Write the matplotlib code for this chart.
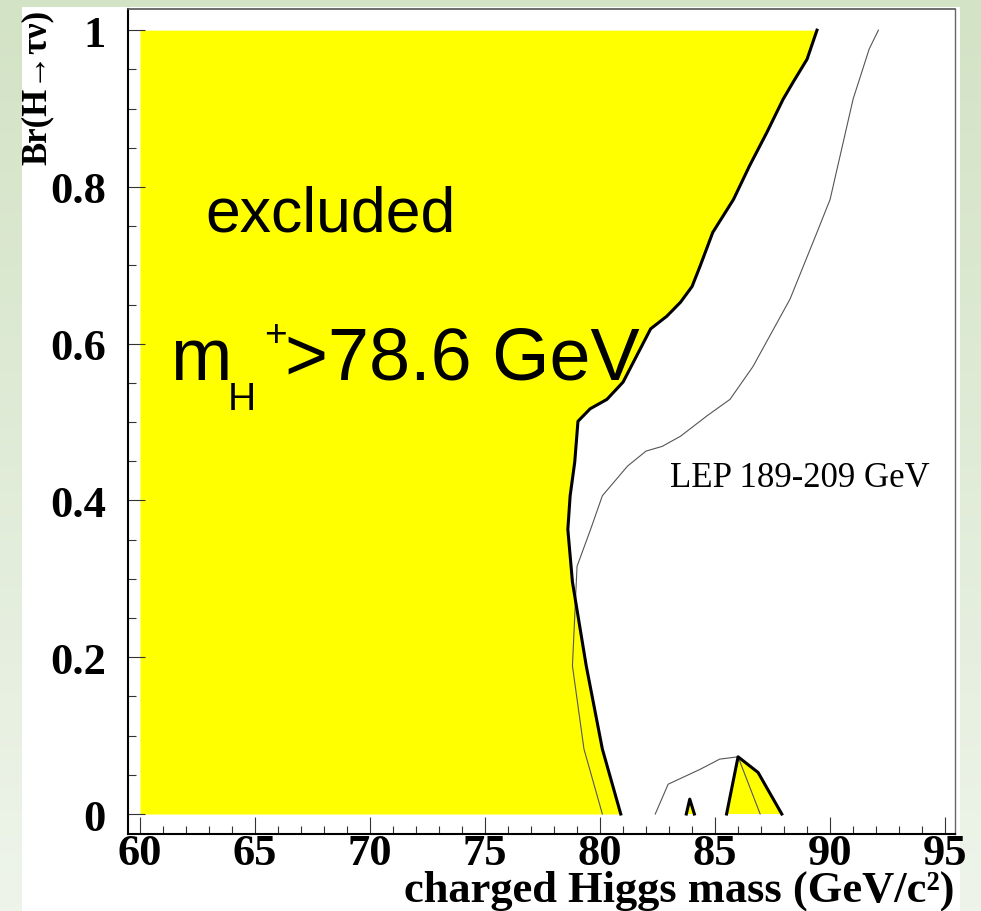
import numpy as np
import matplotlib
matplotlib.use('Agg')
import matplotlib.pyplot as plt
from matplotlib.patches import Rectangle

# observed exclusion boundary, top to bottom
obs_mass = [89.43, 89.0, 88.4, 87.96, 87.26, 86.5, 85.8, 84.9, 84.35, 84.0,
            83.5, 82.9, 82.2, 81.6, 81.0, 80.3, 79.57, 79.04, 78.9, 78.7,
            78.6, 78.8, 79.4, 80.1, 80.9]
obs_br = [1.0, 0.963, 0.934, 0.912, 0.870, 0.827, 0.784, 0.742, 0.699, 0.673,
          0.653, 0.635, 0.619, 0.585, 0.551, 0.529, 0.517, 0.501, 0.449, 0.406,
          0.363, 0.296, 0.189, 0.083, 0.0]

# small excluded islands near Br = 0
isl_mass = [85.5, 86.0, 86.87, 87.9]
isl_br = [0.0, 0.073, 0.053, 0.0]
bump_mass = [83.75, 83.9, 84.1]
bump_br = [0.0, 0.019, 0.0]

# expected limit (thin line)
exp_mass = [92.1, 91.7, 91.0, 90.0, 89.43, 88.26, 86.65, 85.65, 84.65, 83.5,
            82.7, 82.0, 81.2, 80.1, 79.6, 79.0, 78.8, 79.3, 80.1]
exp_br = [1.0, 0.976, 0.912, 0.784, 0.742, 0.657, 0.571, 0.529, 0.508, 0.482,
          0.469, 0.463, 0.444, 0.406, 0.364, 0.316, 0.189, 0.083, 0.0]
exp_isl_mass = [82.4, 82.96, 84.35, 85.2, 86.0]
exp_isl_br = [0.0, 0.038, 0.057, 0.070, 0.073]
exp_in_mass = [86.0, 86.96]
exp_in_br = [0.073, 0.0]

MASS_MIN = 60.0
YELLOW = '#ffff00'
SERIF = ['Liberation Serif', 'DejaVu Serif']
SANS = ['Liberation Sans', 'DejaVu Sans']

fig = plt.figure(figsize=(9.81, 9.12), dpi=100)

# slide background: pale green gradient with a white panel
bg = fig.add_axes([0, 0, 1, 1], zorder=-10)
grad = np.linspace(0, 1, 256).reshape(-1, 1)
cmap = matplotlib.colors.LinearSegmentedColormap.from_list(
    'slide', ['#d3e3c5', '#eef4ea'])
bg.imshow(grad, aspect='auto', cmap=cmap, extent=[0, 1, 0, 1],
          transform=bg.transAxes)
bg.add_patch(Rectangle((22 / 981, 0), (960 - 22) / 981, 1 - 8 / 912,
                       transform=bg.transAxes, color='white', lw=0))
bg.set_axis_off()

ax = fig.add_axes([128 / 981, 1 - 835 / 912, (955 - 128) / 981,
                   (835 - 10) / 912])
ax.set_facecolor('white')

ax.fill_betweenx(obs_br, MASS_MIN, obs_mass, color=YELLOW, lw=0)
ax.fill(isl_mass, isl_br, color=YELLOW, lw=0)
ax.fill(bump_mass, bump_br, color=YELLOW, lw=0)

ax.plot(exp_mass, exp_br, color='#555555', lw=0.8)
ax.plot(exp_isl_mass, exp_isl_br, color='#555555', lw=0.8)
ax.plot(exp_in_mass, exp_in_br, color='#555555', lw=0.8)

ax.plot(obs_mass, obs_br, color='black', lw=2.2)
ax.plot(isl_mass, isl_br, color='black', lw=2.2)
ax.plot(bump_mass, bump_br, color='black', lw=2.2)

ax.set_xlim(59.48, 95.43)
ax.set_ylim(-0.0255, 1.027)
ax.set_xticks(np.arange(60, 96, 5))
ax.set_xticks(np.arange(60, 96, 1), minor=True)
ax.set_yticks([0, 0.2, 0.4, 0.6, 0.8, 1.0])
ax.set_yticklabels(['0', '0.2', '0.4', '0.6', '0.8', '1'])
ax.set_yticks(np.arange(0, 1.001, 0.05), minor=True)
ax.tick_params(which='both', direction='in', color='#333333', width=0.8)
ax.tick_params(which='major', length=12)
ax.tick_params(which='minor', length=6)
ax.tick_params(axis='x', which='major', pad=-1)
ax.tick_params(axis='y', which='major', pad=16)
for lab in ax.get_xticklabels() + ax.get_yticklabels():
    lab.set_family(SERIF)
    lab.set_fontweight('bold')
    lab.set_fontsize(32)

for side in ('left', 'bottom'):
    ax.spines[side].set_color('black')
    ax.spines[side].set_linewidth(1.5)
ax.spines['top'].set_color('#555555')
ax.spines['top'].set_linestyle((0, (3, 1)))
ax.spines['top'].set_linewidth(1.2)
ax.spines['right'].set_color('#666666')
ax.spines['right'].set_linewidth(1.0)

ax.text(62.83, 0.744, 'excluded', family=SANS, fontsize=45,
        va='baseline', ha='left')
ax.text(61.3, 0.555, 'm', family=SANS, fontsize=53, va='baseline')
ax.text(63.8, 0.517, 'H', family=SANS, fontsize=28, va='baseline')
ax.text(65.4, 0.598, '+', family=SANS, fontsize=28, va='baseline')
ax.text(66.3, 0.555, '>78.6 GeV', family=SANS, fontsize=53, va='baseline')
ax.text(83.04, 0.418, 'LEP 189-209 GeV', family=SERIF, fontsize=25,
        va='baseline', ha='left')

fig.text(955 / 981, 1 - 902 / 912, 'charged Higgs mass (GeV/c²)',
         family=SERIF, fontweight='bold', fontsize=32, ha='right',
         va='baseline')
fig.text(37 / 981, 1 - 10 / 912, 'Br(H→τν)', family=SERIF,
         fontweight='bold', fontsize=25, rotation=90, ha='center', va='top')

fig.savefig('out.png', dpi=100)
